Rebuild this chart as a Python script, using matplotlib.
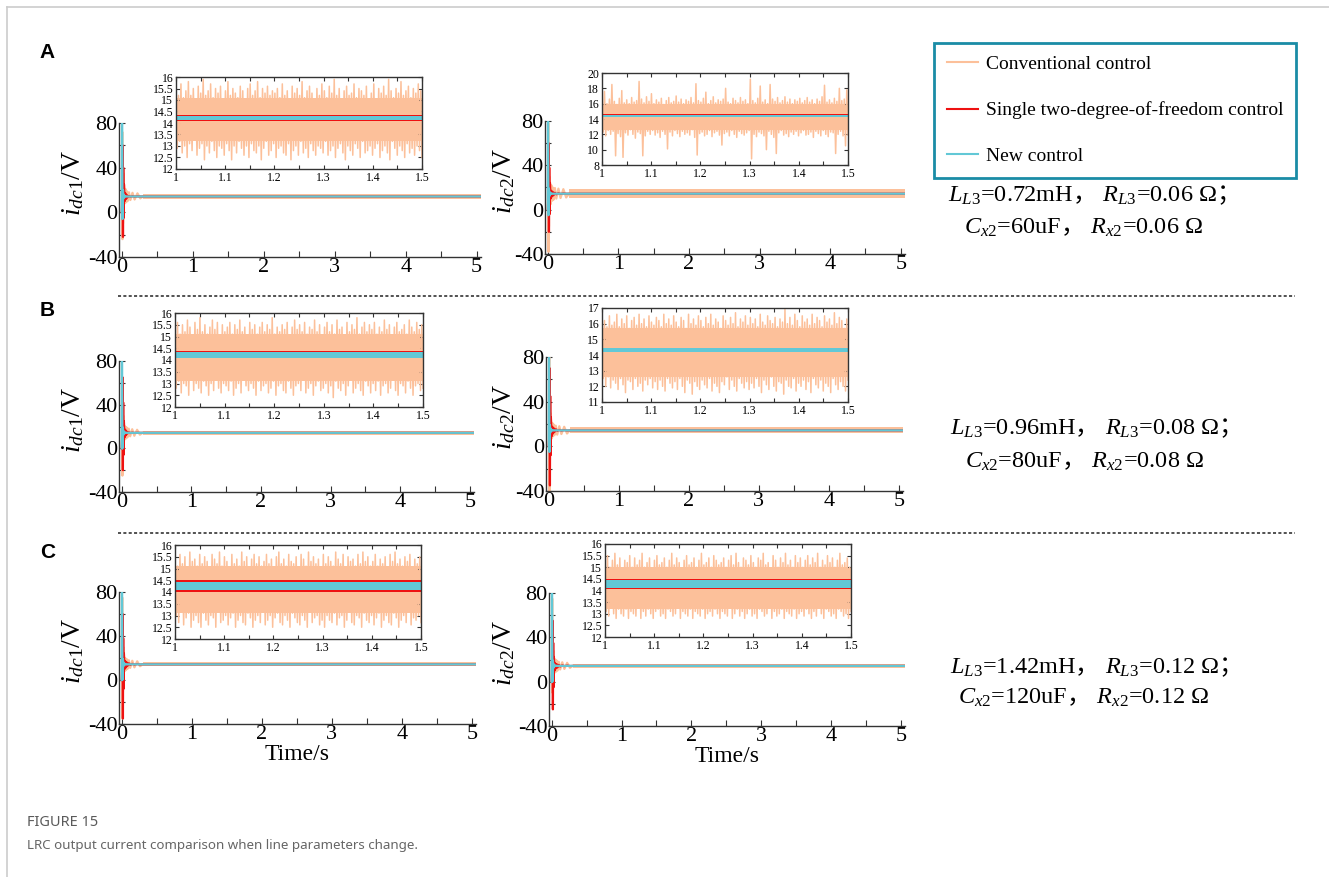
import numpy as np
import matplotlib
matplotlib.use('Agg')
import matplotlib.pyplot as plt
from matplotlib.lines import Line2D
from matplotlib.ticker import MultipleLocator, FormatStrFormatter

plt.rcParams['font.family'] = ['Liberation Serif', 'Noto Sans CJK SC']
plt.rcParams['mathtext.fontset'] = 'custom'
plt.rcParams['mathtext.rm'] = 'Liberation Serif'
plt.rcParams['mathtext.it'] = 'Liberation Serif:italic'
plt.rcParams['mathtext.sf'] = 'Noto Sans CJK SC'
plt.rcParams['axes.unicode_minus'] = False

W, H = 1329, 877

c_conv = '#FCC09A'
c_red = '#EE1111'
c_new = '#62C8D6'

# ---- start-up transient (time in s, current) ----
t_tr = [0.0, 0.003, 0.006, 0.009, 0.012, 0.016, 0.02, 0.025, 0.03, 0.04, 0.05,
        0.06, 0.07, 0.08, 0.1, 0.12, 0.15, 0.18, 0.22, 0.26, 0.3]

A1_conv = [0, 30, 72, -24, 50, -10, 35, 2, 25, 8, 21, 9, 19, 10, 18, 11, 17.5, 11.5, 17, 12.5, 14.2]
A1_red = [0, 5, 10, 20, 60, -22, 40, -5, 25, 10, 17, 12, 15.5, 13.5, 14.6, 14.0, 14.4, 14.1, 14.3, 14.2, 14.2]
A1_new = [0, 80, 45, -6, 8, 20, 12, 16, 13.5, 14.8, 14, 14.3, 14.2, 14.2, 14.2, 14.2, 14.2, 14.2, 14.2, 14.2, 14.2]

A2_conv = [0, 30, 78, -38, 40, -15, 30, 0, 25, 5, 22, 8, 20, 9, 19.5, 10, 19, 10.5, 18.5, 11, 14.4]
A2_red = [0, 5, 10, 20, 60, -20, 38, -4, 24, 10, 17, 12, 16, 13, 15.2, 13.9, 14.8, 14.2, 14.6, 14.4, 14.4]
A2_new = [0, 80, 40, -5, 9, 19, 12, 16, 13.8, 14.9, 14.2, 14.5, 14.4, 14.4, 14.4, 14.4, 14.4, 14.4, 14.4, 14.4, 14.4]

B1_conv = [0, 25, 60, -25, 45, -8, 30, 3, 24, 8, 20, 9, 19, 10, 18, 11, 17.5, 11.5, 17, 12.5, 14.2]
B1_red = [0, 5, 10, 20, 65, -20, 42, -6, 25, 10, 17, 12, 15.4, 13.6, 14.7, 14.0, 14.4, 14.1, 14.3, 14.2, 14.2]
B1_new = [0, 80, 42, 0, 9, 19, 12, 16, 13.6, 14.8, 14.0, 14.3, 14.2, 14.2, 14.2, 14.2, 14.2, 14.2, 14.2, 14.2, 14.2]

B2_conv = [0, 30, 80, -40, 42, -12, 30, 2, 24, 7, 21, 9, 19.5, 10, 18.5, 10.5, 18, 11, 17.5, 11.5, 14.3]
B2_red = [0, 5, 10, 20, 70, -35, 45, -8, 26, 9, 17.5, 11.5, 16.2, 12.8, 15.3, 13.8, 14.7, 14.1, 14.5, 14.2, 14.3]
B2_new = [0, 80, 40, -5, 9, 19, 12, 16, 13.6, 14.8, 14.1, 14.4, 14.3, 14.3, 14.3, 14.3, 14.3, 14.3, 14.3, 14.3, 14.3]

C1_conv = [0, 30, 75, -35, 44, -10, 30, 3, 24, 8, 20, 9, 19, 10, 18, 11, 17.5, 11.5, 17, 12.5, 14.25]
C1_red = [0, 5, 10, 20, 60, -35, 38, -8, 24, 10, 17, 11.5, 16, 12.8, 15.2, 13.7, 14.7, 14.0, 14.5, 14.1, 14.25]
C1_new = [0, 80, 42, 0, 9, 19, 12, 16, 13.6, 14.8, 14.0, 14.4, 14.25, 14.25, 14.25, 14.25, 14.25, 14.25, 14.25, 14.25, 14.25]

C2_conv = [0, 30, 75, -10, 40, -5, 28, 4, 23, 8, 20, 9, 19, 10, 18, 11, 17.5, 11.5, 17, 12.5, 14.25]
C2_red = [0, 5, 10, 20, 55, -25, 35, -5, 22, 10, 16.5, 12, 15.8, 12.8, 15.1, 13.7, 14.7, 14.0, 14.5, 14.1, 14.25]
C2_new = [0, 80, 40, 0, 9, 19, 12, 16, 13.6, 14.8, 14.1, 14.4, 14.25, 14.25, 14.25, 14.25, 14.25, 14.25, 14.25, 14.25, 14.25]

# steady-state band of conventional control after 0.3 s (low, high)
A1_band = [12.2, 16.5]
A2_band = [10.5, 18.5]
B1_band = [12.3, 16.3]
B2_band = [11.8, 16.9]
C1_band = [12.4, 16.1]
C2_band = [12.6, 15.9]

# ---- zoomed window 1-1.5 s: conventional control peaks / troughs ----
A1_hi = [15.6, 15.2, 15.7, 15.1, 15.4, 15.8, 15.2, 15.5, 15.0, 15.6, 15.3, 15.9, 15.2, 15.4, 15.7, 15.1, 15.5, 15.3, 15.6, 15.0,
         15.4, 15.8, 15.2, 15.5, 15.3, 15.1, 15.6, 15.4, 15.0, 15.5, 15.7, 15.2, 15.4, 15.8, 15.1, 15.5, 15.3, 15.6, 15.2, 15.4,
         15.3, 15.5, 15.1, 15.7, 15.2, 15.4, 15.0, 15.6, 15.3, 15.5, 15.2, 15.8, 15.1, 15.4, 15.6, 15.3, 15.0, 15.5, 15.2, 15.7,
         15.4, 15.1, 15.6, 15.3, 15.9, 15.2, 15.5, 15.0, 15.4, 15.6, 15.2, 15.3, 15.7, 15.1, 15.5, 15.4, 15.2, 15.6, 15.0, 15.3,
         15.7, 15.0, 15.5, 15.3, 15.6, 15.2, 15.9, 15.4, 15.1, 15.5, 15.3, 15.8, 15.2, 15.4, 15.6, 15.1, 15.5, 15.3, 15.7, 15.4]
A1_lo = [12.9, 13.2, 12.7, 13.0, 12.5, 13.1, 12.8, 13.3, 12.6, 12.9, 13.1, 12.4, 13.0, 12.7, 13.2, 12.8, 12.5, 13.0, 12.9, 12.6,
         13.1, 12.8, 12.4, 13.0, 12.7, 13.2, 12.9, 12.6, 13.0, 12.5, 13.1, 12.8, 12.7, 13.0, 12.4, 12.9, 13.2, 12.6, 12.8, 13.1,
         12.5, 12.9, 13.0, 12.7, 12.6, 13.1, 12.4, 12.8, 13.0, 12.6, 13.2, 12.7, 12.9, 12.5, 13.1, 12.8, 12.6, 13.0, 12.9, 12.7,
         13.2, 12.6, 12.8, 13.0, 12.5, 12.9, 13.1, 12.7, 12.4, 13.0, 12.8, 12.6, 13.1, 12.9, 12.5, 13.2, 12.7, 12.8, 13.0, 12.6,
         12.9, 13.1, 12.5, 12.8, 13.0, 12.7, 12.4, 13.2, 12.9, 12.6, 13.0, 12.8, 12.5, 13.1, 12.7, 12.9, 12.6, 13.0, 12.8, 12.5]

A2_hi = [16.2, 17.6, 16.0, 16.6, 18.5, 16.3, 15.9, 16.7, 17.7, 16.1, 16.5, 16.0, 16.8, 16.2, 16.4, 18.9, 16.6, 16.1, 16.9, 16.3,
         17.3, 16.0, 16.5, 16.2, 16.7, 15.9, 16.4, 16.8, 16.1, 16.3, 17.0, 16.2, 16.6, 16.0, 16.5, 16.3, 16.8, 16.1, 18.6, 16.4,
         16.2, 16.7, 17.5, 16.0, 16.4, 16.9, 16.1, 16.5, 16.3, 16.6, 18.0, 16.2, 16.0, 16.7, 16.4, 16.1, 16.8, 16.3, 16.5, 16.0,
         19.2, 16.4, 16.1, 16.7, 18.3, 16.2, 16.5, 16.0, 18.5, 16.6, 16.3, 16.8, 16.1, 16.4, 16.9, 16.2, 16.6, 16.0, 16.5, 16.3,
         16.7, 16.1, 16.4, 16.8, 16.2, 16.5, 16.0, 16.6, 16.3, 16.9, 18.4, 16.2, 16.5, 16.1, 16.7, 16.3, 18.0, 16.4, 16.6, 17.8]
A2_lo = [12.3, 11.8, 12.5, 12.0, 12.4, 9.2, 12.1, 11.7, 9.0, 12.2, 11.9, 12.6, 12.0, 11.5, 12.3, 12.1, 9.2, 11.8, 12.4, 12.0,
         12.5, 11.9, 12.2, 11.6, 12.4, 12.0, 10.1, 12.3, 11.8, 12.5, 12.1, 11.7, 12.4, 12.0, 12.2, 11.9, 12.6, 11.6, 9.3, 12.1,
         12.3, 11.8, 12.0, 12.5, 11.7, 12.2, 12.4, 11.9, 10.6, 12.1, 12.3, 11.8, 12.5, 12.0, 11.6, 12.4, 12.1, 11.9, 12.2, 12.5,
         8.8, 12.0, 11.7, 12.3, 12.1, 11.8, 10.0, 12.4, 12.0, 11.6, 9.5, 12.2, 12.5, 11.9, 12.1, 11.7, 12.3, 12.0, 12.4, 11.8,
         12.2, 12.5, 11.9, 12.0, 12.3, 11.6, 12.4, 12.1, 11.8, 12.5, 12.0, 11.7, 12.3, 12.2, 9.5, 12.0, 12.4, 11.8, 10.5, 11.9]

B1_hi = [15.3, 15.6, 15.1, 15.5, 15.2, 15.7, 15.4, 15.0, 15.6, 15.3, 15.8, 15.2, 15.5, 15.1, 15.4, 15.7, 15.3, 15.6, 15.0, 15.5,
         15.2, 15.4, 15.6, 15.1, 15.5, 15.3, 15.7, 15.2, 15.4, 15.0, 15.6, 15.3, 15.5, 15.1, 15.4, 15.6, 15.2, 15.5, 15.3, 15.8,
         15.1, 15.4, 15.2, 15.5, 15.3, 15.6, 15.0, 15.4, 15.7, 15.3, 15.5, 15.2, 15.6, 15.1, 15.4, 15.3, 15.7, 15.2, 15.5, 15.0,
         15.4, 15.6, 15.2, 15.5, 15.1, 15.7, 15.3, 15.4, 15.0, 15.6, 15.2, 15.5, 15.3, 15.8, 15.1, 15.4, 15.6, 15.2, 15.5, 15.3,
         15.6, 15.1, 15.4, 15.2, 15.7, 15.3, 15.5, 15.0, 15.4, 15.6, 15.2, 15.3, 15.5, 15.1, 15.7, 15.4, 15.2, 15.6, 15.3, 15.5]
B1_lo = [12.8, 13.1, 12.6, 13.0, 12.9, 12.5, 13.2, 12.7, 13.0, 12.8, 12.6, 13.1, 12.9, 12.5, 13.0, 12.7, 13.2, 12.8, 12.6, 13.0,
         12.9, 12.7, 13.1, 12.5, 12.8, 13.0, 12.6, 13.2, 12.9, 12.7, 13.0, 12.8, 12.5, 13.1, 12.7, 12.9, 13.0, 12.6, 12.8, 13.1,
         12.5, 12.9, 13.0, 12.7, 12.6, 13.1, 12.8, 12.5, 12.9, 13.0, 12.7, 13.2, 12.6, 12.8, 13.0, 12.5, 12.9, 13.1, 12.7, 12.8,
         13.0, 12.6, 12.9, 12.4, 13.1, 12.8, 12.7, 13.0, 12.5, 12.9, 13.2, 12.6, 12.8, 13.0, 12.7, 12.5, 13.1, 12.9, 12.6, 13.0,
         12.7, 13.1, 12.5, 12.9, 13.0, 12.6, 12.8, 13.2, 12.7, 12.5, 13.0, 12.9, 12.6, 13.1, 12.8, 12.5, 12.9, 13.0, 12.7, 12.8]

B2_hi = [15.5, 16.2, 15.8, 16.5, 15.9, 16.1, 16.6, 15.8, 16.3, 16.0, 16.5, 15.7, 16.2, 16.4, 15.9, 16.6, 16.0, 16.3, 15.8, 16.5,
         16.1, 15.9, 16.4, 16.2, 15.8, 16.6, 16.0, 16.3, 15.9, 16.5, 16.1, 15.8, 16.4, 16.2, 15.7, 16.6, 16.0, 16.3, 15.9, 16.5,
         16.2, 15.8, 16.4, 16.0, 16.6, 15.9, 16.3, 16.1, 15.7, 16.5, 16.2, 15.9, 16.4, 16.0, 16.7, 15.8, 16.3, 16.1, 16.5, 15.9,
         16.4, 16.0, 16.3, 15.8, 16.6, 16.1, 15.9, 16.5, 16.2, 16.0, 16.4, 15.8, 16.3, 16.1, 16.9, 16.0, 16.4, 15.9, 16.6, 16.2,
         15.8, 16.5, 16.1, 16.3, 15.9, 16.6, 16.0, 16.4, 16.2, 15.8, 16.5, 16.1, 16.3, 15.9, 16.7, 16.0, 16.4, 16.2, 15.7, 16.3]
B2_lo = [12.5, 12.0, 12.6, 11.9, 12.4, 12.2, 11.8, 12.5, 12.1, 11.6, 12.4, 12.3, 11.8, 12.5, 12.0, 12.2, 11.7, 12.4, 12.1, 12.5,
         11.9, 12.3, 11.8, 12.4, 12.0, 11.7, 12.5, 12.2, 11.9, 12.3, 11.8, 12.5, 12.0, 11.6, 12.4, 12.2, 11.5, 12.3, 12.0, 11.8,
         12.4, 12.1, 11.9, 12.5, 11.7, 12.2, 12.0, 11.6, 12.3, 12.1, 12.6, 11.8, 12.4, 12.0, 11.7, 12.5, 12.2, 11.9, 12.3, 11.8,
         12.2, 11.9, 12.5, 12.0, 11.6, 12.4, 12.1, 11.8, 12.6, 12.0, 11.7, 12.3, 12.2, 11.5, 12.4, 12.0, 11.9, 12.5, 11.7, 12.2,
         12.0, 12.4, 11.8, 12.3, 11.6, 12.5, 12.1, 11.9, 12.4, 11.7, 12.2, 12.0, 11.6, 12.5, 12.1, 11.8, 12.3, 12.0, 11.7, 12.4]

C1_hi = [15.4, 15.1, 15.6, 15.2, 15.5, 15.0, 15.7, 15.3, 15.4, 15.1, 15.6, 15.2, 15.5, 15.3, 15.0, 15.6, 15.4, 15.2, 15.7, 15.1,
         15.5, 15.3, 15.0, 15.6, 15.2, 15.4, 15.1, 15.7, 15.3, 15.5, 15.0, 15.4, 15.6, 15.2, 15.5, 15.1, 15.3, 15.6, 15.2, 15.4,
         15.0, 15.5, 15.7, 15.2, 15.4, 15.1, 15.6, 15.3, 15.2, 15.5, 15.0, 15.6, 15.4, 15.1, 15.7, 15.3, 15.5, 15.2, 15.4, 15.0,
         15.6, 15.2, 15.5, 15.3, 15.1, 15.7, 15.4, 15.2, 15.6, 15.0, 15.5, 15.3, 15.4, 15.1, 15.6, 15.2, 15.7, 15.3, 15.5, 15.1,
         15.3, 15.6, 15.1, 15.4, 15.2, 15.5, 15.0, 15.6, 15.3, 15.7, 15.2, 15.4, 15.1, 15.5, 15.3, 15.6, 15.0, 15.4, 15.2, 15.5]
C1_lo = [13.0, 12.7, 13.2, 12.6, 12.9, 13.1, 12.5, 12.8, 13.0, 12.7, 12.5, 13.1, 12.8, 12.6, 13.0, 12.9, 12.5, 13.2, 12.7, 12.8,
         13.0, 12.6, 12.9, 13.1, 12.5, 12.8, 13.0, 12.7, 12.6, 13.1, 12.9, 12.5, 12.8, 13.0, 12.7, 13.2, 12.6, 12.8, 13.0, 12.5,
         12.9, 13.1, 12.7, 12.6, 13.0, 12.8, 12.5, 13.1, 12.9, 12.7, 12.6, 13.0, 12.8, 12.5, 13.2, 12.7, 12.9, 13.0, 12.6, 12.8,
         12.5, 13.0, 12.8, 12.7, 13.1, 12.6, 12.9, 13.0, 12.5, 12.8, 13.2, 12.7, 12.6, 13.0, 12.9, 12.5, 13.1, 12.8, 12.7, 13.0,
         12.6, 12.9, 13.1, 12.5, 12.8, 13.0, 12.7, 12.6, 13.1, 12.9, 12.5, 12.8, 13.0, 12.7, 13.2, 12.6, 12.9, 12.8, 13.0, 12.7]

C2_hi = [15.2, 15.5, 15.0, 15.3, 15.6, 15.1, 15.4, 14.9, 15.3, 15.2, 15.5, 15.0, 15.4, 15.1, 15.3, 15.6, 15.0, 15.2, 15.4, 14.9,
         15.3, 15.5, 15.1, 15.2, 15.4, 15.0, 15.3, 15.6, 15.1, 15.4, 15.2, 14.9, 15.3, 15.5, 15.1, 15.2, 15.4, 15.0, 15.3, 15.6,
         15.1, 15.2, 15.4, 15.0, 15.5, 15.3, 15.1, 15.2, 15.4, 15.0, 15.3, 15.5, 15.1, 15.6, 15.2, 15.0, 15.4, 15.3, 15.1, 15.5,
         15.2, 15.0, 15.4, 15.3, 15.6, 15.1, 15.2, 14.9, 15.5, 15.3, 15.0, 15.4, 15.2, 15.6, 15.1, 15.3, 15.0, 15.5, 15.2, 15.4,
         15.0, 15.3, 15.5, 15.1, 15.4, 15.2, 15.6, 15.0, 15.3, 15.1, 15.5, 15.2, 15.4, 15.0, 15.3, 15.6, 15.1, 15.2, 15.4, 15.0]
C2_lo = [13.1, 12.9, 13.3, 13.0, 12.8, 13.2, 13.0, 12.9, 13.2, 12.8, 13.1, 13.0, 12.9, 13.3, 12.8, 13.1, 12.9, 13.2, 13.0, 12.8,
         13.1, 13.2, 12.9, 13.0, 12.8, 13.2, 13.1, 12.9, 13.0, 13.3, 12.8, 13.1, 13.0, 12.9, 13.2, 12.8, 13.1, 13.0, 12.9, 13.2,
         12.8, 13.0, 13.1, 12.9, 13.2, 13.0, 12.8, 13.1, 13.0, 12.9, 13.3, 12.8, 13.0, 13.2, 12.9, 13.1, 12.8, 13.0, 13.2, 12.9,
         13.0, 12.8, 13.2, 13.1, 12.9, 13.0, 13.3, 12.8, 13.1, 12.9, 13.0, 13.2, 12.8, 13.1, 13.0, 12.9, 13.2, 12.8, 13.0, 13.1,
         12.9, 13.2, 13.0, 12.8, 13.1, 12.9, 13.3, 13.0, 12.8, 13.2, 13.1, 12.9, 13.0, 12.8, 13.2, 13.1, 12.9, 13.0, 12.8, 13.1]

# dense body of the conventional ripple in the zoomed window (low, high)
A1_body = [13.2, 15.1]
A2_body = [12.6, 15.9]
B1_body = [13.1, 15.1]
B2_body = [12.6, 15.7]
C1_body = [13.1, 15.1]
C2_body = [13.2, 15.0]

# ripple band of the two 2-DOF controllers in the zoomed window (low, high)
A1_red_band, A1_new_band = [14.1, 14.34], [14.13, 14.31]
A2_red_band, A2_new_band = [14.25, 14.6], [14.32, 14.55]
B1_red_band, B1_new_band = [14.08, 14.38], [14.1, 14.36]
B2_red_band, B2_new_band = [14.2, 14.45], [14.22, 14.42]
C1_red_band, C1_new_band = [14.0, 14.5], [14.08, 14.42]
C2_red_band, C2_new_band = [14.05, 14.5], [14.1, 14.45]

inset_ylim = {'A1': (12, 16, 0.5), 'A2': (8, 20, 2), 'B1': (12, 16, 0.5),
              'B2': (11, 17, 1), 'C1': (12, 16, 0.5), 'C2': (12, 16, 0.5)}

params_text = [
    (r'$L_{L3}$=0.72mH$\mathsf{，}$ $R_{L3}$=0.06 Ω$\mathsf{；}$', r'$C_{x2}$=60uF$\mathsf{，}$ $R_{x2}$=0.06 Ω'),
    (r'$L_{L3}$=0.96mH$\mathsf{，}$ $R_{L3}$=0.08 Ω$\mathsf{；}$', r'$C_{x2}$=80uF$\mathsf{，}$ $R_{x2}$=0.08 Ω'),
    (r'$L_{L3}$=1.42mH$\mathsf{，}$ $R_{L3}$=0.12 Ω$\mathsf{；}$', r'$C_{x2}$=120uF$\mathsf{，}$ $R_{x2}$=0.12 Ω'),
]

# layout in pixels: main (left, top, width, height), inset (left, top, right, bottom)
panels = [
    ('A1', (119, 123, 362, 134), (176, 77, 422, 169), A1_conv, A1_red, A1_new, A1_band, A1_hi, A1_lo, A1_body, A1_red_band, A1_new_band, r'$i_{dc1}$/V'),
    ('A2', (545, 121, 360, 133), (602, 73, 848, 165), A2_conv, A2_red, A2_new, A2_band, A2_hi, A2_lo, A2_body, A2_red_band, A2_new_band, r'$i_{dc2}$/V'),
    ('B1', (119, 361, 355, 131), (175, 313, 423, 407), B1_conv, B1_red, B1_new, B1_band, B1_hi, B1_lo, B1_body, B1_red_band, B1_new_band, r'$i_{dc1}$/V'),
    ('B2', (546, 357, 357, 134), (602, 308, 848, 402), B2_conv, B2_red, B2_new, B2_band, B2_hi, B2_lo, B2_body, B2_red_band, B2_new_band, r'$i_{dc2}$/V'),
    ('C1', (119, 592, 357, 132), (175, 545, 421, 639), C1_conv, C1_red, C1_new, C1_band, C1_hi, C1_lo, C1_body, C1_red_band, C1_new_band, r'$i_{dc1}$/V'),
    ('C2', (549, 593, 356, 133), (605, 544, 851, 637), C2_conv, C2_red, C2_new, C2_band, C2_hi, C2_lo, C2_body, C2_red_band, C2_new_band, r'$i_{dc2}$/V'),
]


def px_rect(left, top, width, height):
    return [left / W, 1 - (top + height) / H, width / W, height / H]


fig = plt.figure(figsize=(W / 100, H / 100), dpi=100)
spine_c = '#333333'

for name, mrect, irect, conv, red, new, band, hi, lo, body, rband, nband, ylab in panels:
    ax = fig.add_axes(px_rect(*mrect))
    t_full = t_tr + [5.06]
    ax.fill_between([0.3, 5.06], band[0], band[1], color=c_conv, lw=0, zorder=1)
    ax.plot(t_full, conv + [conv[-1]], color=c_conv, lw=1.6, zorder=2)
    ax.plot(t_full, red + [red[-1]], color=c_red, lw=1.6, zorder=3)
    ax.plot(t_full, new + [new[-1]], color=c_new, lw=1.6, zorder=4)
    ax.set_xlim(-0.04, 5.06)
    ax.set_ylim(-40, 80)
    ax.xaxis.set_major_locator(MultipleLocator(1))
    ax.xaxis.set_minor_locator(MultipleLocator(0.5))
    ax.yaxis.set_major_locator(MultipleLocator(40))
    ax.yaxis.set_minor_locator(MultipleLocator(20))
    ax.tick_params(which='both', direction='in', length=4, width=0.8, color=spine_c,
                   labelsize=16, pad=1)
    for s in ['top', 'right']:
        ax.spines[s].set_visible(False)
    for s in ['left', 'bottom']:
        ax.spines[s].set_color(spine_c)
        ax.spines[s].set_linewidth(1.0)
    ax.set_ylabel(ylab, fontsize=20, labelpad=0)
    label_right = 86 if mrect[0] < 300 else 517
    ax.yaxis.set_label_coords(-(mrect[0] - label_right) / mrect[2], 0.55)
    if name[0] == 'C':
        ax.set_xlabel('Time/s', fontsize=17, labelpad=0)

    # zoomed inset: dense body plus alternating peaks / troughs
    il, it, ir, ib = irect
    ins = fig.add_axes(px_rect(il, it, ir - il, ib - it))
    n = len(hi)
    xz = np.linspace(1, 1.5, 2 * n)
    yz = np.empty(2 * n)
    yz[0::2] = hi
    yz[1::2] = lo
    ins.fill_between([1, 1.5], body[0], body[1], color=c_conv, lw=0, zorder=1)
    ins.plot(xz, yz, color=c_conv, lw=1.1, zorder=2)
    ins.fill_between([1, 1.5], rband[0], rband[1], color=c_red, lw=0, zorder=3)
    ins.fill_between([1, 1.5], nband[0], nband[1], color=c_new, lw=0, zorder=4)
    y0, y1, ystep = inset_ylim[name]
    ins.set_xlim(1, 1.5)
    ins.set_ylim(y0, y1)
    ins.xaxis.set_major_locator(MultipleLocator(0.1))
    ins.xaxis.set_minor_locator(MultipleLocator(0.05))
    ins.yaxis.set_major_locator(MultipleLocator(ystep))
    ins.yaxis.set_major_formatter(FormatStrFormatter('%g'))
    ins.xaxis.set_major_formatter(FormatStrFormatter('%g'))
    ins.tick_params(which='both', direction='in', length=3, width=0.8, color=spine_c,
                    labelsize=8.5, pad=2, top=True, right=True)
    for s in ins.spines.values():
        s.set_color(spine_c)
        s.set_linewidth(1.0)
        s.set_zorder(5)

# legend
handles = [Line2D([], [], color=c_conv, lw=1.5),
           Line2D([], [], color=c_red, lw=1.5),
           Line2D([], [], color=c_new, lw=1.5)]
labels = ['Conventional control', 'Single two-degree-of-freedom control', 'New control']
leg = fig.legend(handles, labels, loc='upper left', bbox_to_anchor=(934 / W, 1 - 43 / H),
                 frameon=True, fancybox=False, edgecolor='#1A8CA6', framealpha=1, fontsize=14,
                 handlelength=1.6, handletextpad=0.4, labelspacing=1.45, borderpad=0.65,
                 borderaxespad=0)
leg.get_frame().set_linewidth(2)

# line parameter notes
note_pos = [((948, 195), (964, 228)), ((950, 428), (965, 462)), ((950, 667), (958, 698))]
for (l1, l2), ((x1, y1), (x2, y2)) in zip(params_text, note_pos):
    fig.text(x1 / W, 1 - y1 / H, l1, fontsize=17.5, va='center', ha='left')
    fig.text(x2 / W, 1 - y2 / H, l2, fontsize=17.5, va='center', ha='left')

# panel letters
for letter, (x, y) in zip('ABC', [(47, 53), (47, 310), (48, 552)]):
    fig.text(x / W, 1 - y / H, letter, fontsize=15, weight='bold', family='Liberation Sans',
             ha='center', va='center')

# dashed separators between rows
for y in [296, 533]:
    fig.add_artist(Line2D([118 / W, 1295 / W], [1 - y / H, 1 - y / H], transform=fig.transFigure,
                          color='#222222', lw=1.1, dashes=(2, 1.5)))

# outer page frame
fig.add_artist(Line2D([7 / W, 1], [1 - 7 / H, 1 - 7 / H], transform=fig.transFigure, color='#cccccc', lw=1.2))
fig.add_artist(Line2D([7 / W, 7 / W], [0, 1 - 7 / H], transform=fig.transFigure, color='#cccccc', lw=1.2))

# caption
fig.text(27 / W, 1 - 823 / H, 'FIGURE 15', fontsize=10.5, weight='semibold', family='Noto Sans',
         color='#5a5a5a', va='center')
fig.text(27 / W, 1 - 845 / H, 'LRC output current comparison when line parameters change.',
         fontsize=9.6, family='Noto Sans', color='#666666', va='center')

fig.savefig('out.png', dpi=100)
